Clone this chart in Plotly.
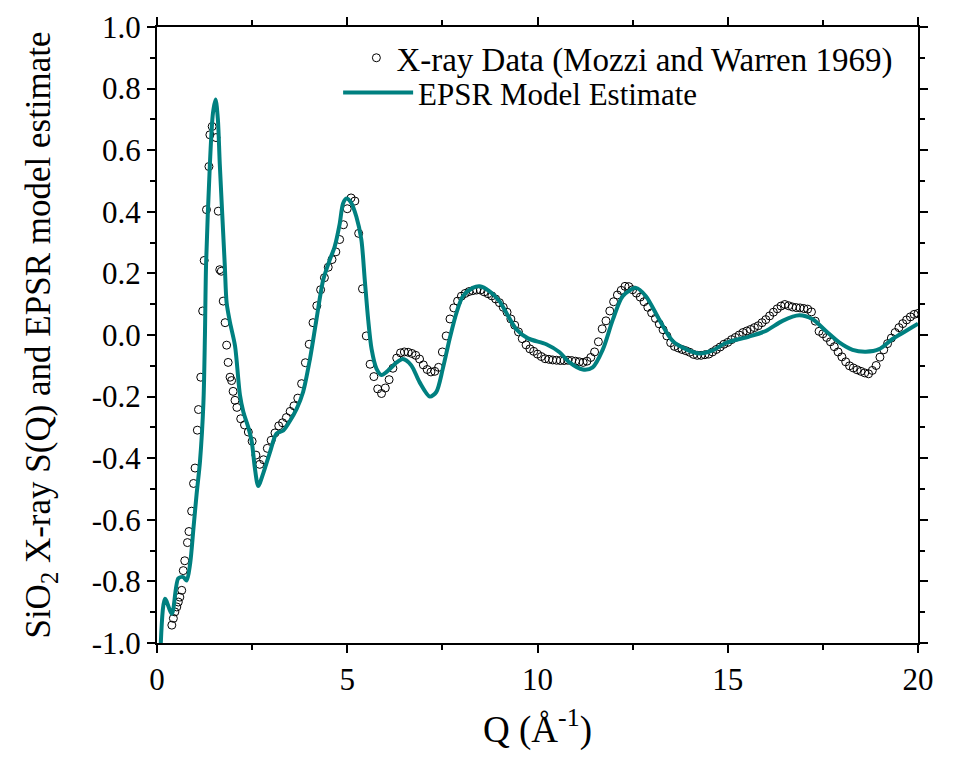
import plotly.graph_objects as go

# ---------------- data ----------------
# X-ray data (Mozzi and Warren 1969) - low-Q part (irregular spacing as read)
data_q_low = [0.39, 0.43, 0.47, 0.52, 0.56, 0.60, 0.65, 0.69, 0.73, 0.80, 0.84, 0.91,
              0.96, 1.00, 1.06, 1.09, 1.15, 1.20, 1.24, 1.30, 1.365, 1.39, 1.45, 1.55,
              1.61, 1.65, 1.69, 1.74, 1.79, 1.83, 1.87, 1.92, 1.96, 2.00, 2.05]
data_s_low = [-0.942, -0.920, -0.899, -0.883, -0.867, -0.851, -0.829, -0.765, -0.733, -0.674,
              -0.638, -0.572, -0.482, -0.432, -0.309, -0.242, -0.137, 0.078, 0.242, 0.407,
              0.547, 0.650, 0.677, 0.641, 0.402, 0.212, 0.207, 0.110, 0.040, -0.033,
              -0.089, -0.137, -0.148, -0.183, -0.212]

# X-ray data - dense part, Q from 2.1 to 20.0 (step 0.1)
data_q_high = [round(2.1 + 0.1 * i, 2) for i in range(180)]
data_s_high = [
    -0.235, -0.272, -0.292, -0.315, -0.345, -0.390, -0.420, -0.405, -0.368, -0.342,   # 2.1-3.0
    -0.318, -0.295, -0.285, -0.268, -0.248, -0.230, -0.205, -0.158, -0.090, -0.030,   # 3.1-4.0
    0.040, 0.095, 0.147, 0.186, 0.220, 0.245, 0.270, 0.310, 0.358, 0.410,             # 4.1-5.0
    0.445, 0.435, 0.330, 0.150, -0.003, -0.095, -0.135, -0.175, -0.190, -0.172,       # 5.1-6.0
    -0.145, -0.108, -0.075, -0.058, -0.055, -0.056, -0.060, -0.066, -0.078, -0.097,   # 6.1-7.0
    -0.112, -0.120, -0.118, -0.105, -0.055, -0.003, 0.052, 0.088, 0.110, 0.126,       # 7.1-8.0
    0.135, 0.141, 0.144, 0.146, 0.146, 0.140, 0.134, 0.127, 0.117, 0.105,             # 8.1-9.0
    0.090, 0.074, 0.052, 0.032, 0.010, -0.012, -0.032, -0.045, -0.053, -0.062,        # 9.1-10.0
    -0.070, -0.077, -0.079, -0.081, -0.082, -0.083, -0.083, -0.082, -0.083, -0.085,   # 10.1-11.0
    -0.087, -0.089, -0.085, -0.073, -0.055, -0.022, 0.020, 0.046, 0.078, 0.108,       # 11.1-12.0
    0.130, 0.145, 0.158, 0.157, 0.147, 0.136, 0.123, 0.108, 0.090, 0.072,             # 12.1-13.0
    0.054, 0.036, 0.017, -0.003, -0.025, -0.037, -0.042, -0.047, -0.051, -0.056,      # 13.1-14.0
    -0.063, -0.066, -0.066, -0.064, -0.062, -0.055, -0.047, -0.039, -0.030, -0.024,   # 14.1-15.0
    -0.015, -0.008, 0.000, 0.008, 0.013, 0.018, 0.024, 0.030, 0.040, 0.050,           # 15.1-16.0
    0.062, 0.074, 0.085, 0.094, 0.099, 0.095, 0.091, 0.089, 0.088, 0.086,             # 16.1-17.0
    0.084, 0.075, 0.045, 0.012, 0.004, -0.008, -0.022, -0.038, -0.055, -0.071,        # 17.1-18.0
    -0.087, -0.100, -0.107, -0.113, -0.118, -0.123, -0.126, -0.115, -0.099, -0.072,   # 18.1-19.0
    -0.048, -0.028, -0.010, 0.008, 0.024, 0.037, 0.049, 0.059, 0.067, 0.070,          # 19.1-20.0
]

data_q = data_q_low + data_q_high
data_s = data_s_low + data_s_high

# EPSR model estimate
model_q = [0.10, 0.21, 0.39, 0.56, 0.69, 0.78, 0.87, 0.96, 1.04, 1.13, 1.22, 1.26, 1.29,
           1.39, 1.47, 1.54, 1.60, 1.65, 1.78, 1.83, 1.92, 2.05, 2.18, 2.27, 2.40, 2.49,
           2.57, 2.66, 2.79, 2.97, 3.14, 3.32, 3.49, 3.67, 3.84, 4.02, 4.19, 4.37, 4.54,
           4.67, 4.80, 4.89, 4.98, 5.10, 5.24, 5.37, 5.46, 5.55, 5.64, 5.77, 5.90, 6.12,
           6.29, 6.46, 6.68, 6.90, 7.17, 7.34, 7.51, 7.69, 7.87, 8.04, 8.30, 8.48, 8.74,
           9.00, 9.18, 9.44, 9.75, 10.23, 10.58, 10.84, 11.19, 11.45, 11.72, 11.98, 12.24,
           12.59, 12.85, 13.20, 13.55, 13.90, 14.25, 14.60, 14.95, 15.56, 16.00, 16.44,
           16.88, 17.23, 17.58, 17.93, 18.28, 18.63, 18.98, 19.33, 19.68, 20.00]
model_s = [-1.000, -0.856, -0.905, -0.790, -0.786, -0.797, -0.743, -0.625, -0.518, -0.410,
           -0.220, 0.000, 0.230, 0.555, 0.720, 0.765, 0.700, 0.555, 0.230, 0.105, 0.040,
           -0.035, -0.195, -0.250, -0.300, -0.346, -0.430, -0.490, -0.450, -0.380, -0.320,
           -0.310, -0.280, -0.240, -0.185, -0.078, 0.050, 0.180, 0.244, 0.287, 0.360, 0.427,
           0.443, 0.430, 0.384, 0.310, 0.180, 0.050, -0.046, -0.110, -0.130, -0.110, -0.090,
           -0.078, -0.098, -0.153, -0.200, -0.185, -0.110, -0.013, 0.072, 0.126, 0.153,
           0.158, 0.142, 0.110, 0.072, 0.019, -0.011, -0.030, -0.056, -0.089, -0.112,
           -0.105, -0.046, 0.050, 0.126, 0.153, 0.126, 0.050, -0.019, -0.046, -0.060,
           -0.050, -0.026, -0.005, 0.013, 0.046, 0.064, 0.051, 0.013, -0.024, -0.048,
           -0.054, -0.046, -0.013, 0.013, 0.037]

# tick labels
y_tickvals = [-1.0, -0.8, -0.6, -0.4, -0.2, 0.0, 0.2, 0.4, 0.6, 0.8, 1.0]
y_ticktext = ["-1.0", "-0.8", "-0.6", "-0.4", "-0.2", "0.0", "0.2", "0.4", "0.6", "0.8", "1.0"]
x_tickvals = [0, 5, 10, 15, 20]
x_ticktext = ["0", "5", "10", "15", "20"]

FONT = "Liberation Serif, Times New Roman, serif"
TEAL = "#008080"

fig = go.Figure()
fig.add_trace(go.Scatter(
    x=data_q, y=data_s, mode="markers",
    name="X-ray Data (Mozzi and Warren 1969)", legend="legend",
    marker=dict(symbol="circle-open", size=8, color="black", line=dict(width=1, color="black")),
))
fig.add_trace(go.Scatter(
    x=model_q, y=model_s, mode="lines",
    name="EPSR Model Estimate", legend="legend2",
    line=dict(color=TEAL, width=4, shape="spline", smoothing=0.8),
))

axis_common = dict(
    showline=True, linecolor="black", linewidth=2, mirror="allticks",
    ticks="outside", ticklen=8, tickwidth=2, tickcolor="black",
    showgrid=False, zeroline=False, automargin=False, ticklabeloverflow="allow",
    tickfont=dict(family=FONT, size=31, color="black"),
)

fig.update_xaxes(
    range=[0, 20], tickmode="array", tickvals=x_tickvals, ticktext=x_ticktext,
    minor=dict(dtick=2.5, ticks="outside", ticklen=5, tickwidth=2, tickcolor="black", showgrid=False),
    title=dict(text="Q (Å<sup>-1</sup>)", font=dict(family=FONT, size=37, color="black"), standoff=30),
    **axis_common,
)
fig.update_yaxes(
    range=[-1.0, 1.0], tickmode="array", tickvals=y_tickvals, ticktext=y_ticktext,
    minor=dict(dtick=0.1, ticks="outside", ticklen=5, tickwidth=2, tickcolor="black", showgrid=False),
    title=dict(text="SiO<sub>2</sub> X-ray S(Q) and EPSR model estimate",
               font=dict(family=FONT, size=35, color="black"), standoff=30),
    **axis_common,
)

legend_common = dict(
    bgcolor="rgba(0,0,0,0)", borderwidth=0,
    xanchor="left", yanchor="middle",
)

fig.update_layout(
    width=937, height=743,
    margin=dict(l=149, r=27, t=19, b=108),
    paper_bgcolor="white", plot_bgcolor="white",
    font=dict(family=FONT, color="black"),
    showlegend=True,
    legend=dict(x=0.262, y=0.950, itemwidth=30,
                font=dict(family=FONT, size=33, color="black"), **legend_common),
    legend2=dict(x=0.238, y=0.893, itemwidth=70,
                 font=dict(family=FONT, size=31, color="black"), **legend_common),
)

fig.write_html("out.html")
